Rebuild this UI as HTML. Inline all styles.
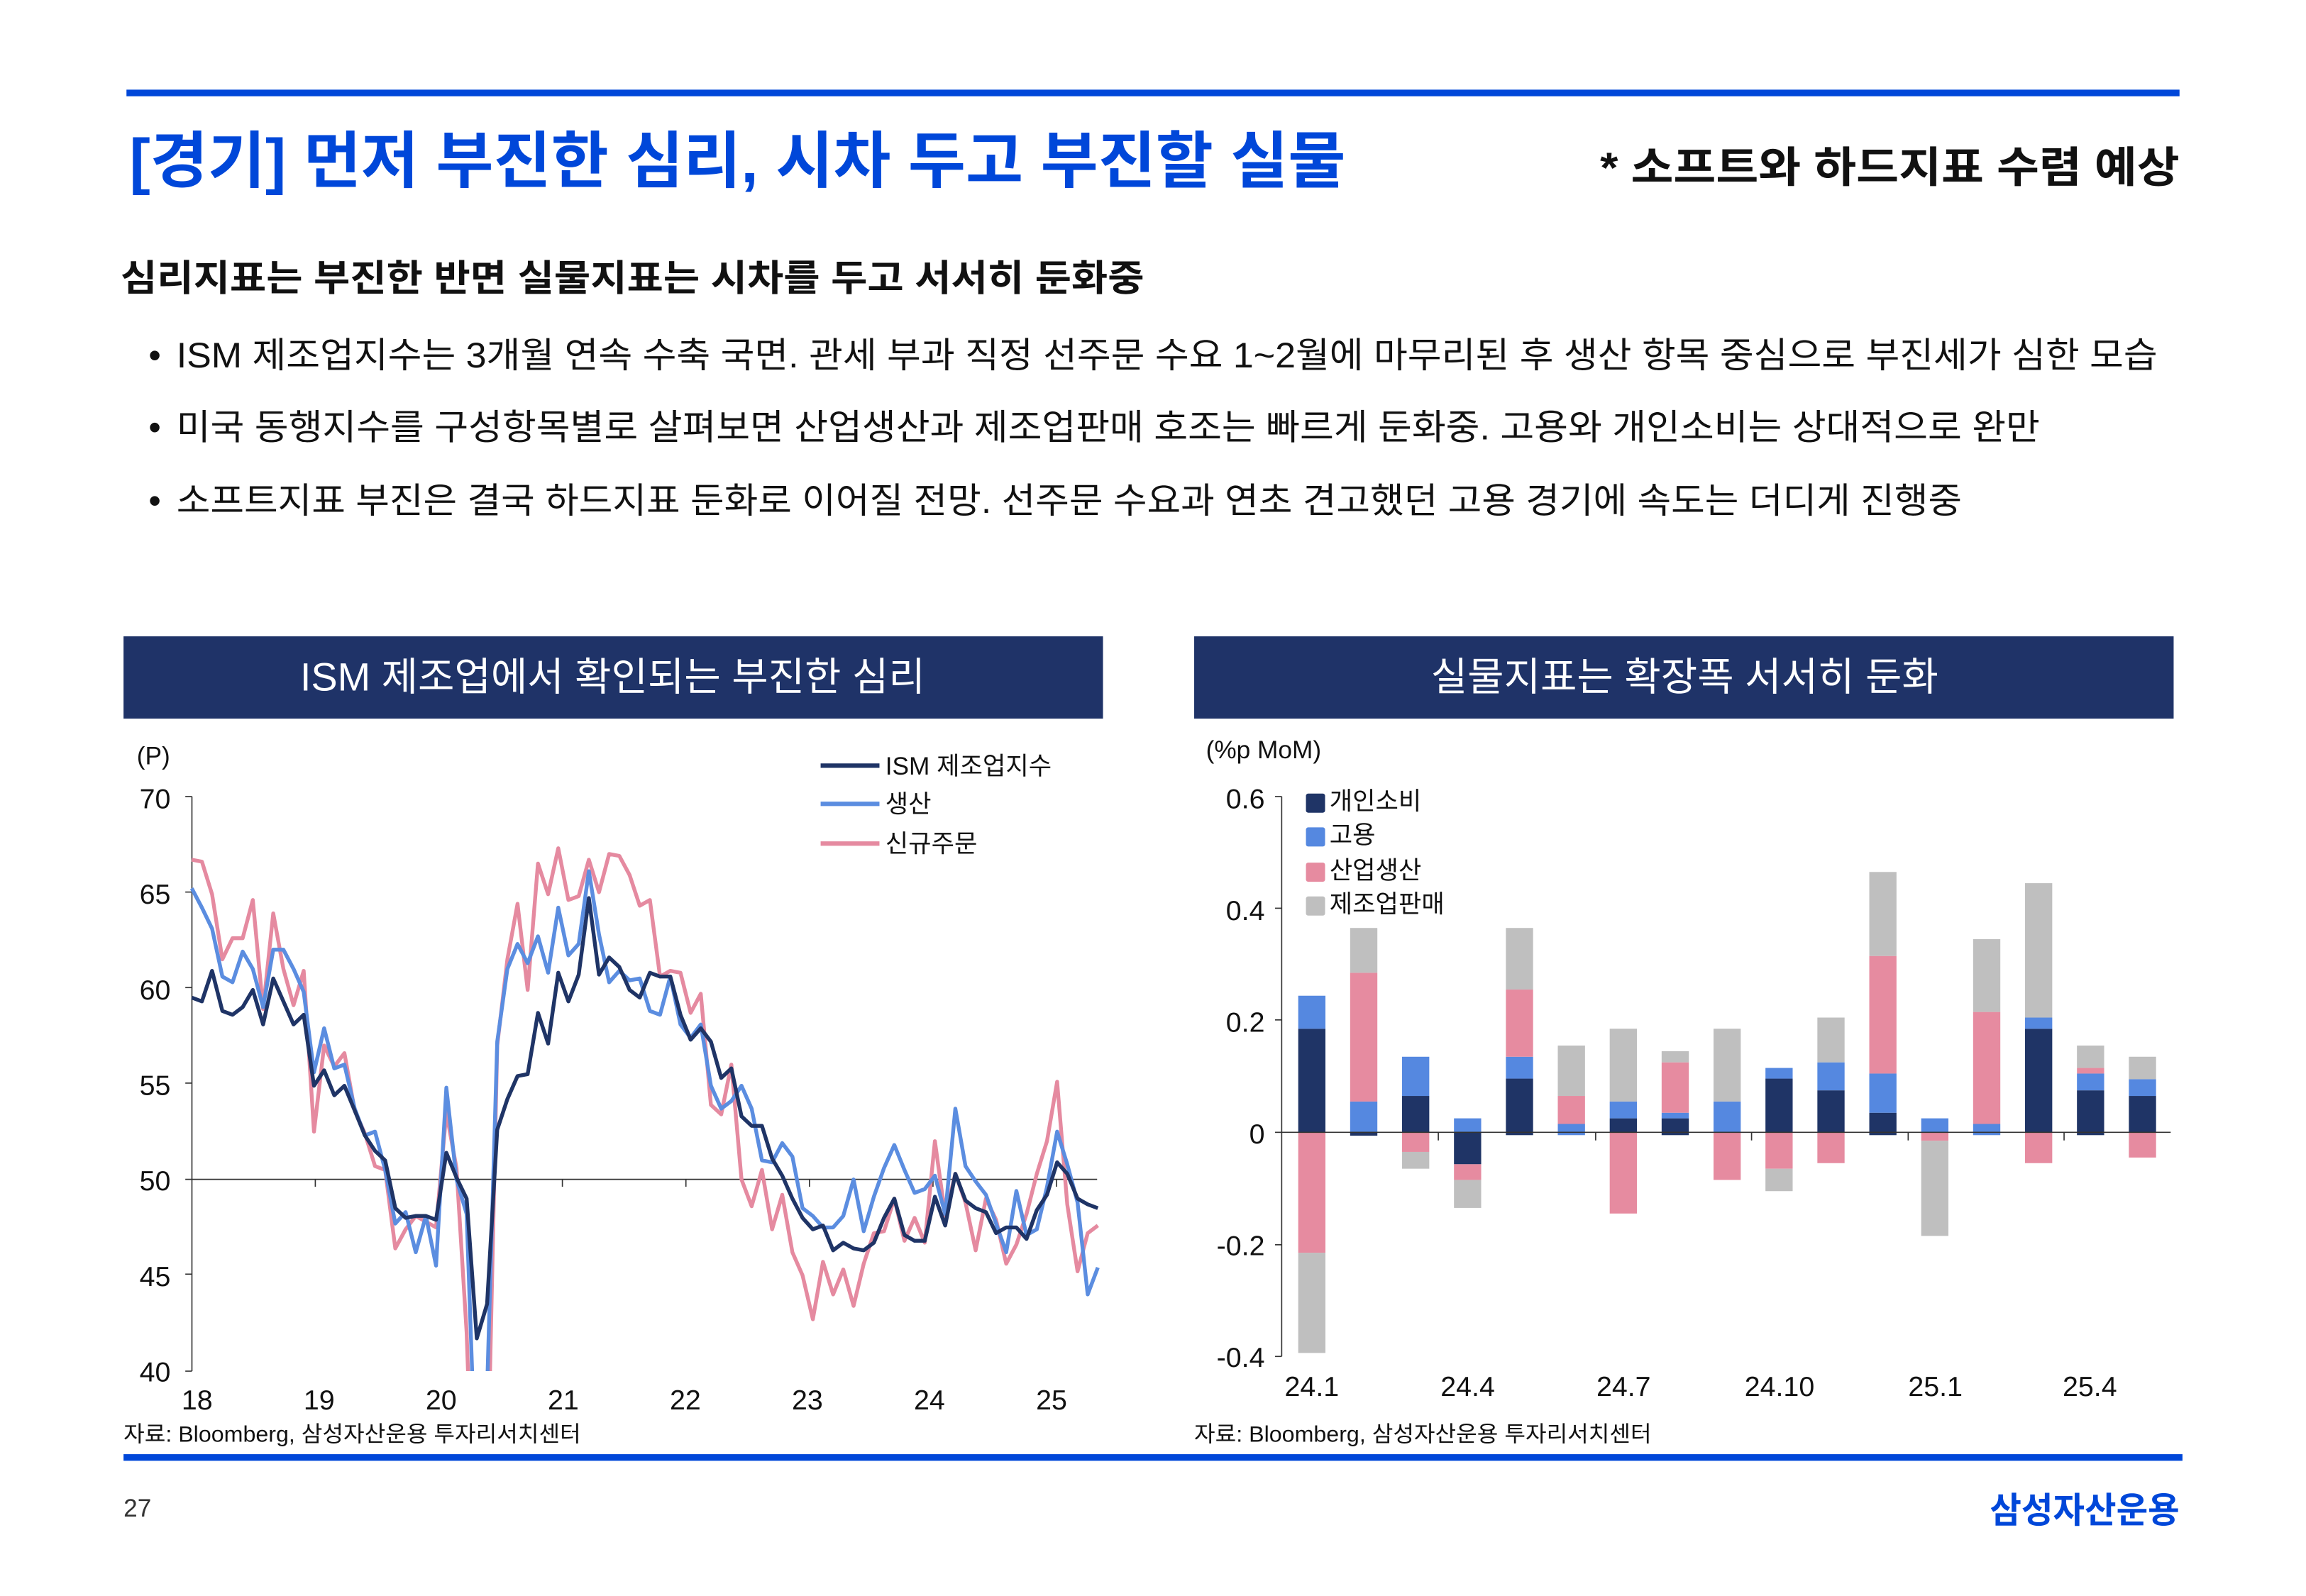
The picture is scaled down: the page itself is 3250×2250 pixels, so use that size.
<!DOCTYPE html>
<html><head><meta charset="utf-8">
<style>
html,body{margin:0;padding:0;background:#fff;}
svg{display:block;}
text{font-family:"Liberation Sans","Noto Sans CJK KR",sans-serif;}
</style></head>
<body>
<svg id="s" width="3250" height="2250" viewBox="0 0 1568 1086" preserveAspectRatio="none" xmlns="http://www.w3.org/2000/svg">
<rect x="0" y="0" width="1568" height="1086" fill="#fff"/>
<rect x="86" y="61" width="1396" height="4.5" fill="#0047d9"/>
<text x="88" y="124" font-size="42" font-weight="bold" fill="#0047d9" textLength="827" lengthAdjust="spacingAndGlyphs">[경기] 먼저 부진한 심리, 시차 두고 부진할 실물</text>
<text x="1088" y="124" font-size="29" font-weight="bold" fill="#111" textLength="394" lengthAdjust="spacingAndGlyphs">* 소프트와 하드지표 수렴  예상</text>
<text x="82" y="198" font-size="25" font-weight="bold" fill="#111" textLength="696" lengthAdjust="spacingAndGlyphs">심리지표는 부진한 반면 실물지표는 시차를 두고 서서히 둔화중</text>
<g font-size="24" fill="#111">
<text x="101" y="250">•</text><text x="120" y="250" textLength="1347" lengthAdjust="spacingAndGlyphs">ISM 제조업지수는 3개월 연속 수축 국면. 관세 부과 직정 선주문 수요 1~2월에 마무리된 후 생산 항목 중심으로 부진세가 심한 모습</text>
<text x="101" y="299">•</text><text x="120" y="299" textLength="1267" lengthAdjust="spacingAndGlyphs">미국 동행지수를 구성항목별로 살펴보면 산업생산과 제조업판매 호조는 빠르게 둔화중. 고용와 개인소비는 상대적으로 완만</text>
<text x="101" y="349">•</text><text x="120" y="349" textLength="1214" lengthAdjust="spacingAndGlyphs">소프트지표 부진은 결국 하드지표 둔화로 이어질 전망. 선주문 수요과 연초 견고했던 고용 경기에 속도는 더디게 진행중</text>
</g>
<rect x="84" y="433" width="666" height="56" fill="#1f3368"/>
<rect x="812" y="433" width="666" height="56" fill="#1f3368"/>
<text x="204" y="470" font-size="27" fill="#fff" textLength="425" lengthAdjust="spacingAndGlyphs">ISM 제조업에서 확인되는 부진한 심리</text>
<text x="973" y="470" font-size="27" fill="#fff" textLength="345" lengthAdjust="spacingAndGlyphs">실물지표는 확장폭 서서히 둔화</text>

<g font-size="19" fill="#111">
<text x="93" y="520" font-size="17">(P)</text>
<text x="116" y="550" text-anchor="end">70</text>
<text x="116" y="615" text-anchor="end">65</text>
<text x="116" y="680" text-anchor="end">60</text>
<text x="116" y="745" text-anchor="end">55</text>
<text x="116" y="810" text-anchor="end">50</text>
<text x="116" y="875" text-anchor="end">45</text>
<text x="116" y="940" text-anchor="end">40</text>
<text x="134" y="959" text-anchor="middle">18</text>
<text x="217" y="959" text-anchor="middle">19</text>
<text x="300" y="959" text-anchor="middle">20</text>
<text x="383" y="959" text-anchor="middle">21</text>
<text x="466" y="959" text-anchor="middle">22</text>
<text x="549" y="959" text-anchor="middle">23</text>
<text x="632" y="959" text-anchor="middle">24</text>
<text x="715" y="959" text-anchor="middle">25</text>
</g>
<g stroke="#333" stroke-width="0.8" fill="none">
<line x1="130.5" y1="542" x2="130.5" y2="933"/>
<line x1="126" y1="542" x2="130.5" y2="542"/><line x1="126" y1="607" x2="130.5" y2="607"/>
<line x1="126" y1="672" x2="130.5" y2="672"/><line x1="126" y1="737" x2="130.5" y2="737"/>
<line x1="126" y1="867" x2="130.5" y2="867"/><line x1="126" y1="933" x2="130.5" y2="933"/>
<line x1="126" y1="802.5" x2="746" y2="802.5"/>
<g id="lt"></g>
</g>
<clipPath id="cl"><rect x="125" y="500" width="630" height="433"/></clipPath>
<g id="lines" clip-path="url(#cl)" fill="none" stroke-width="2.6" stroke-linejoin="round"></g>
<g font-size="17" fill="#111">
<line x1="558" y1="521" x2="598" y2="521" stroke="#1f3466" stroke-width="3"/>
<line x1="558" y1="547" x2="598" y2="547" stroke="#5b8de0" stroke-width="3"/>
<line x1="558" y1="574" x2="598" y2="574" stroke="#e58aa0" stroke-width="3"/>
<text x="602" y="527">ISM 제조업지수</text>
<text x="602" y="553">생산</text>
<text x="602" y="580">신규주문</text>
</g>

<g font-size="19" fill="#111">
<text x="820" y="516" font-size="17">(%p MoM)</text>
<text x="860" y="550" text-anchor="end">0.6</text>
<text x="860" y="626" text-anchor="end">0.4</text>
<text x="860" y="702" text-anchor="end">0.2</text>
<text x="860" y="778" text-anchor="end">0</text>
<text x="860" y="854" text-anchor="end">-0.2</text>
<text x="860" y="930" text-anchor="end">-0.4</text>
<text x="892" y="950" text-anchor="middle">24.1</text>
<text x="998" y="950" text-anchor="middle">24.4</text>
<text x="1104" y="950" text-anchor="middle">24.7</text>
<text x="1210" y="950" text-anchor="middle">24.10</text>
<text x="1316" y="950" text-anchor="middle">25.1</text>
<text x="1421" y="950" text-anchor="middle">25.4</text>
</g>
<g id="bars"></g>
<g stroke="#333" stroke-width="0.8">
<line x1="871.5" y1="542" x2="871.5" y2="923"/>
<line x1="867" y1="542" x2="871.5" y2="542"/><line x1="867" y1="618" x2="871.5" y2="618"/>
<line x1="867" y1="694" x2="871.5" y2="694"/><line x1="867" y1="770.5" x2="871.5" y2="770.5"/>
<line x1="867" y1="847" x2="871.5" y2="847"/><line x1="867" y1="923" x2="871.5" y2="923"/>
<line x1="871.5" y1="770.5" x2="1476" y2="770.5"/>
<line x1="978" y1="770.5" x2="978" y2="776"/><line x1="1085" y1="770.5" x2="1085" y2="776"/>
<line x1="1191" y1="770.5" x2="1191" y2="776"/><line x1="1297.5" y1="770.5" x2="1297.5" y2="776"/>
<line x1="1403.5" y1="770.5" x2="1403.5" y2="776"/>
</g>
<g font-size="17" fill="#111">
<rect x="888" y="540" width="13" height="13" rx="1.5" fill="#1f3466"/><text x="904" y="551">개인소비</text>
<rect x="888" y="563" width="13" height="13" rx="1.5" fill="#5588e0"/><text x="904" y="574">고용</text>
<rect x="888" y="587" width="13" height="13" rx="1.5" fill="#e68ba0"/><text x="904" y="598">산업생산</text>
<rect x="888" y="610" width="13" height="13" rx="1.5" fill="#bfbfbf"/><text x="904" y="621">제조업판매</text>
</g>

<g font-size="15" fill="#111">
<text x="84" y="981" textLength="311" lengthAdjust="spacingAndGlyphs">자료: Bloomberg, 삼성자산운용 투자리서치센터</text>
<text x="812" y="981" textLength="311" lengthAdjust="spacingAndGlyphs">자료: Bloomberg, 삼성자산운용 투자리서치센터</text>
</g>
<rect x="84" y="989.5" width="1400" height="4.5" fill="#0047d9"/>
<text x="84" y="1032" font-size="17" fill="#333">27</text>
<text x="1482" y="1036" font-size="24" font-weight="bold" fill="#0047d9" text-anchor="end" textLength="129" lengthAdjust="spacingAndGlyphs">삼성자산운용</text>
</svg>
<script>
var NS="http://www.w3.org/2000/svg";
var ism=[59.5,59.3,60.9,58.8,58.6,59,59.9,58.1,60.5,59.3,58.1,58.6,54.9,55.7,54.4,54.9,53.6,52.3,51.5,51,48.5,48,48.1,48.1,47.9,51.4,50.1,49,41.7,43.5,52.6,54.2,55.4,55.5,58.7,57.1,60.8,59.3,60.7,64.7,60.7,61.6,61.1,59.9,59.5,60.8,60.6,60.6,58.6,57.3,57.9,57.2,55.3,55.8,53.3,52.8,52.8,51.1,50.2,49,48,47.4,47.6,46.3,46.7,46.4,46.3,46.7,48,49,47.1,46.8,46.8,49.1,47.6,50.3,48.9,48.5,48.3,47.2,47.5,47.5,46.9,48.4,49.2,50.9,50.3,49,48.7,48.5];
var prod=[65.2,64.2,63.1,60.6,60.3,61.9,61,59,62,62,61,59.8,55.6,57.9,55.8,56,53.7,52.3,52.5,50.5,47.7,48.3,46.2,48.1,45.5,54.8,50,48.2,33,39,57.2,61,62.3,61.3,62.7,60.8,64.2,61.7,62.3,66.1,62.8,60.3,60.9,60.4,60.5,58.8,58.6,60.6,58.1,57.4,58.1,54.9,53.7,54.1,54.9,53.7,51,50.9,51.9,51.2,48.5,48.1,47.5,47.5,48.1,50,47.3,49.1,50.6,51.8,50.5,49.3,49.5,50.2,48.2,53.7,50.7,49.9,49.2,47.7,46.2,49.4,47.1,47.4,49.6,52.5,50.8,48.8,44,45.4];
var nord=[66.7,66.6,64.9,61.5,62.6,62.6,64.6,58.9,63.9,61,59.1,60.9,52.5,57,55.9,56.6,53.6,52.4,50.7,50.5,46.4,47.4,48.1,47.8,47.5,53.5,50.6,42,27,33,57,61.5,64.4,59.9,66.5,64.9,67.3,64.6,64.8,66.7,65,67,66.9,65.9,64.3,64.6,60.6,60.9,60.8,58.7,59.7,53.9,53.4,56,50,48.6,50.5,47.4,49.2,46.2,45,42.7,45.7,44,45.3,43.4,45.6,47.2,47.3,49,46.8,48,46.7,52,48.1,50.3,48.8,46.3,49,47.9,45.6,46.6,48.2,50.3,52,55.1,48.7,45.2,47.2,47.6];
function pl(d,c){var n=d.length,x0=130.4,x1=746.5,p=[];for(var i=0;i<n;i++){var x=x0+i*(x1-x0)/(n-1);var y=542+(70-d[i])*13.03;p.push(x.toFixed(1)+","+y.toFixed(1));}
var e=document.createElementNS(NS,"polyline");e.setAttribute("points",p.join(" "));e.setAttribute("stroke",c);document.getElementById("lines").appendChild(e);}
pl(nord,"#e58aa0");pl(prod,"#5b8de0");pl(ism,"#1f3466");
var lt=document.getElementById("lt");
for(var k=1;k<8;k++){var x=130.4+k*12*7.0;var l=document.createElementNS(NS,"line");l.setAttribute("x1",x);l.setAttribute("x2",x);l.setAttribute("y1",802.5);l.setAttribute("y2",807.5);lt.appendChild(l);}
var cols={n:"#1f3466",b:"#5588e0",p:"#e68ba0",g:"#bfbfbf"};
var B=[
 [[["n",0.185],["b",0.059]],[["p",-0.215],["g",-0.179]]],
 [[["b",0.055],["p",0.23],["g",0.08]],[["n",-0.006]]],
 [[["n",0.065],["b",0.07]],[["p",-0.035],["g",-0.03]]],
 [[["b",0.025]],[["n",-0.057],["p",-0.028],["g",-0.05]]],
 [[["n",0.096],["b",0.039],["p",0.12],["g",0.11]],[["n",-0.005]]],
 [[["b",0.015],["p",0.05],["g",0.09]],[["b",-0.005]]],
 [[["n",0.025],["b",0.03],["g",0.13]],[["p",-0.145]]],
 [[["n",0.025],["b",0.01],["p",0.09],["g",0.02]],[["n",-0.005]]],
 [[["b",0.055],["g",0.13]],[["p",-0.085]]],
 [[["n",0.096],["b",0.019]],[["p",-0.065],["g",-0.04]]],
 [[["n",0.075],["b",0.05],["g",0.08]],[["p",-0.055]]],
 [[["n",0.035],["b",0.07],["p",0.21],["g",0.15]],[["n",-0.005]]],
 [[["b",0.025]],[["p",-0.015],["g",-0.17]]],
 [[["b",0.015],["p",0.2],["g",0.13]],[["b",-0.005]]],
 [[["n",0.185],["b",0.02],["g",0.24]],[["p",-0.055]]],
 [[["n",0.075],["b",0.03],["p",0.01],["g",0.04]],[["n",-0.005]]],
 [[["n",0.065],["b",0.03],["g",0.04]],[["p",-0.045]]]
];
var bg=document.getElementById("bars"),s=381,y0=770.5;
function rc(x,y,h,c){var r=document.createElementNS(NS,"rect");r.setAttribute("x",x);r.setAttribute("y",y);r.setAttribute("width",18.5);r.setAttribute("height",Math.max(h,0.5));r.setAttribute("fill",c);bg.appendChild(r);}
for(var i=0;i<B.length;i++){var cx=892+i*35.3,x=cx-9.25;var acc=0;
 B[i][0].forEach(function(q){var h=q[1]*s;rc(x,y0-acc-h,h,cols[q[0]]);acc+=h;});
 acc=0;B[i][1].forEach(function(q){var h=-q[1]*s;rc(x,y0+acc,h,cols[q[0]]);acc+=h;});}
</script>
</body></html>
